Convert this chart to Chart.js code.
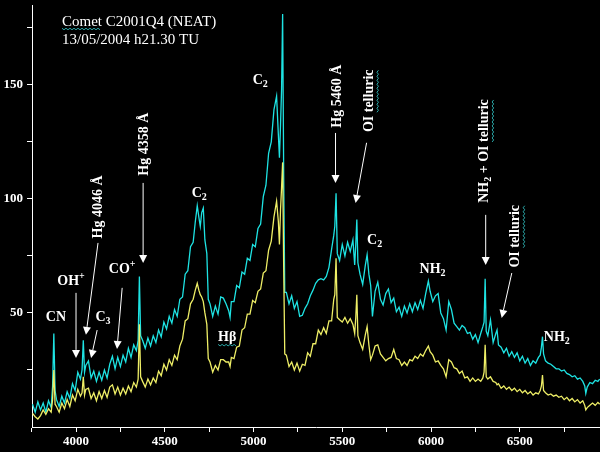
<!DOCTYPE html>
<html>
<head>
<meta charset="utf-8">
<title>Comet C2001Q4 (NEAT)</title>
<script src="https://cdn.jsdelivr.net/npm/chart.js@4.4.1/dist/chart.umd.min.js"></script>
<style>
  html, body { margin: 0; padding: 0; background: #000; overflow: hidden; }
</style>
</head>
<body>
<canvas id="spec" width="600" height="452"></canvas>
<script>
// wavelength in Angstrom
const wavelengths = [
  3755, 3770, 3785, 3800, 3815, 3830, 3845, 3860,
  3868, 3875, 3882,
  3890, 3905, 3920, 3935, 3950, 3965, 3980, 3995, 4010, 4025,
  4034, 4041, 4048,
  4055, 4070, 4085, 4100, 4115, 4130, 4145, 4160, 4175, 4190, 4205, 4220, 4235, 4250, 4265, 4280, 4295, 4310, 4325, 4340,
  4350, 4357, 4364,
  4375, 4390, 4405, 4420, 4435, 4450, 4465, 4480, 4495, 4510, 4525, 4540, 4555, 4570, 4585, 4600, 4615, 4630, 4645, 4660,
  4672, 4683, 4692, 4700, 4708, 4717, 4726, 4737, 4745,
  4755, 4770, 4785, 4800, 4815, 4830, 4845, 4860, 4868, 4875, 4890, 4905, 4920, 4935, 4950, 4965, 4980, 4995, 5010, 5025, 5040, 5055, 5070, 5085, 5100, 5115, 5130,
  5140, 5146, 5152, 5158, 5164, 5170, 5176,
  5185, 5200, 5215, 5230, 5245, 5260, 5275, 5290, 5305, 5320, 5335, 5350, 5365, 5380, 5395, 5410, 5425, 5440, 5452,
  5458, 5465, 5472,
  5485, 5500, 5515, 5530, 5545, 5560, 5570,
  5576, 5582, 5588,
  5600, 5615, 5630, 5640, 5650, 5660, 5670, 5685, 5700, 5715, 5730, 5745, 5760, 5775, 5790, 5805, 5820, 5835, 5850, 5865,
  5880, 5895, 5910, 5925, 5940, 5955, 5970, 5985, 5995, 6010, 6025, 6040, 6055, 6070, 6085,
  6100, 6115, 6130, 6145, 6160, 6175, 6190, 6205, 6220, 6235, 6250, 6265, 6280, 6292,
  6299, 6305, 6311,
  6320, 6335, 6350, 6365, 6372, 6380, 6395, 6410, 6425, 6440, 6455, 6470, 6485, 6500, 6515, 6530, 6545, 6560, 6575, 6590,
  6605, 6615, 6622, 6628, 6634, 6645, 6660, 6675, 6690, 6705, 6720, 6735, 6750, 6765, 6780, 6795, 6810, 6825, 6840, 6855,
  6866, 6872, 6880, 6895, 6910, 6925, 6940, 6950
];

// upper (cyan) spectrum
const fluxCyan = [
  10, 6.5, 11, 7.5, 10.5, 6.5, 11.5, 8.5,
  18, 41, 16,
  12, 9, 13.5, 10.5, 15.5, 12.5, 19, 16, 24, 21,
  25, 38, 24,
  27, 29, 21.5, 24.5, 20, 24, 20.5, 25, 21.5, 27.5, 31, 25.5, 30.5, 26.5, 31.5, 28.5, 34.5, 30.5, 36, 33.5,
  38, 66, 40,
  38, 34.5, 39, 35.5, 40, 37, 42.5, 39.5, 46, 43, 48.5, 45.5, 51.5, 48.5, 56, 57, 67, 68.5, 79, 81,
  90, 97, 92, 88, 94, 96, 82, 76, 56,
  54, 48.5, 53, 49.5, 57, 56.5, 54, 51, 48, 55, 55, 62, 61, 68, 67, 74, 73, 80, 79, 87, 89, 101, 106, 120, 125, 139, 145,
  128, 118, 132, 148, 181, 110, 59,
  59, 54, 57.5, 52, 55, 48.5, 49, 52, 54, 57.5, 60, 63, 64.5, 65, 64.5, 66, 70, 78, 84,
  88, 102.5, 76,
  73, 80, 75, 81, 77, 82, 71,
  80, 91, 72,
  67, 62.5, 71, 75.5, 67, 62, 48.5, 59.5, 63.5, 56, 53.5, 58.5, 60.5, 54.5, 56.5, 50.5, 52.5, 48.5, 53, 50,
  54, 50.5, 54.5, 51.5, 55.5, 52, 58.5, 64, 59.5, 55, 57.5, 58.5, 50, 47.5, 42.5,
  55, 51.5, 45.5, 44, 42.5, 44.5, 43.5, 41, 41.5, 38.5, 40.5, 37, 41, 44,
  46, 65, 42,
  40, 47, 37, 41, 42.5, 36, 35, 32.5, 34.5, 31, 33, 30.5, 32.5, 29, 31, 28, 30, 27, 29, 28,
  30.5, 31.5, 35, 39.6, 32, 29, 28, 27.5, 26.5, 25.5, 25.5, 24.5, 25, 23.5, 23, 22, 22.5, 21, 21.5, 20,
  18, 14.7, 17.5, 19.5, 19, 20.5, 20, 21
];

// lower (yellow) spectrum
const fluxYellow = [
  6, 4.5, 3.5, 5, 7.5, 5.5, 8, 6.5,
  12, 25, 10,
  9, 6.5, 10.5, 8, 12, 9, 14, 11.5, 16.5, 13.5,
  15, 22, 14,
  16.5, 17, 12.5, 15, 11.5, 15.5, 12.5, 16, 13, 17.5, 18.5, 14.5, 17.5, 14, 17, 14.5, 18, 15.5, 19.5, 17.5,
  21, 45, 22,
  20, 17.5, 21, 18.5, 21.5, 19.5, 24.5, 22.5, 27.5, 25, 29.5, 27, 31.5, 29.5, 35.5, 38.5, 46.5, 47.5, 54, 56,
  60, 63, 60, 58, 57, 55, 50, 45, 30,
  28.5, 24, 27, 25, 29.5, 29.5, 28.5, 28.5, 26.5, 30.5, 30, 35, 35.5, 42.5, 43.5, 49.5, 49.5, 55.5, 54.5, 59.5, 60.5, 67.5, 68.5, 77.5, 81.5, 92, 99,
  90, 80, 95, 105, 116, 70, 32,
  31.5, 26.5, 28.5, 25, 28, 24.5, 27.5, 27, 32.5, 31, 36.5, 36.5, 42.5, 40.5, 43.5, 41, 46.5, 46.5, 56,
  58, 74, 48,
  47, 46, 48, 45.5, 47.5, 45, 41,
  48, 58, 40,
  37, 34, 40.5, 44, 36, 29.5, 31.5, 35.5, 36, 32, 30.5, 29, 30, 30.5, 34, 30, 29.5, 27, 28.5, 27,
  29.5, 29, 31, 30, 32, 31, 33.5, 35.5, 33, 31.5, 28.5, 29, 27, 25.5, 22,
  29.5, 28.5, 26, 25.5, 23.5, 24.5, 21.5, 22, 20, 21.5, 20, 21, 20, 21.5,
  24, 36, 22,
  21, 22, 20, 19.5, 18.5, 19, 17, 18, 16.5, 17.5, 16, 17, 15.5, 16.5, 15, 16, 14.5, 15.5, 14, 15,
  14.5, 16, 18, 22.8, 16, 15, 14, 14.5, 13.5, 14, 13, 13.5, 12, 13, 11.5, 12.5, 11, 12, 10.5, 11.5,
  9.5, 7.5, 8.5, 9.5, 10.5, 9.5, 10.8, 10
];

const xTicks = [3750, 4000, 4250, 4500, 4750, 5000, 5250, 5500, 5750, 6000, 6250, 6500, 6750];
const xTickLabels = ['', '4000', '', '4500', '', '5000', '', '5500', '', '6000', '', '6500', ''];
const yTicks = [25, 50, 75, 100, 125, 150, 175];
const yTickLabels = ['', '50', '', '100', '', '150', ''];

// text placed in data units (wavelength, flux)
const titleLines = [
  { parts: [['Comet', 'wavy'], [' C2001Q4 (NEAT)']], at: [3921, 175.9] },
  { parts: [['13/05/2004 h21.30 TU']], at: [3921, 167.8] }
];

const lineLabels = [
  { parts: [['CN']], at: [3887, 48] },
  { parts: [['OH'], ['+', 'sup']], at: [3972, 64] },
  { parts: [['C'], ['3', 'sub']], at: [4152, 48] },
  { parts: [['CO'], ['+', 'sup']], at: [4260, 69] },
  { parts: [['C'], ['2', 'sub']], at: [4694, 102.6] },
  { parts: [['C'], ['2', 'sub']], at: [5038, 152] },
  { parts: [['H\u03b2', 'wavy']], at: [4852, 39.5] },
  { parts: [['C'], ['2', 'sub']], at: [5682, 82] },
  { parts: [['NH'], ['2', 'sub']], at: [6009, 69] },
  { parts: [['NH'], ['2', 'sub']], at: [6709, 39.5] }
];

const sideLabels = [
  { parts: [['Hg 4046 \u00c5']], at: [4124, 96.5] },
  { parts: [['Hg 4358 \u00c5']], at: [4384, 124] },
  { parts: [['Hg 5460 \u00c5']], at: [5473, 145] },
  { parts: [['OI '], ['telluric', 'wavy']], at: [5653, 143] },
  { parts: [['NH'], ['2', 'sub'], [' + OI '], ['telluric', 'wavy']], at: [6302, 121] },
  { parts: [['OI '], ['telluric', 'wavy']], at: [6477, 83.6] }
];

// arrows: from (wl, flux) to tip (wl, flux)
const arrows = [
  [4000, 58.8, 4000, 30.3],
  [4124, 80.7, 4056, 40.4],
  [4119, 42.5, 4085, 30.3],
  [4260, 61, 4231, 34.2],
  [4378, 107, 4378, 71.9],
  [5462, 128.9, 5462, 107],
  [5637, 124.6, 5575, 98.2],
  [6308, 93, 6308, 71],
  [6455, 67.5, 6398, 47.8]
];

const serif = '"Liberation Serif", "Times New Roman", serif';

// draws a label made of pieces (normal / sub / sup / wavy underline)
function drawParts(ctx, parts, size, align, weight, waveY) {
  const small = Math.round(size * 0.7);
  const fontOf = p => weight + ' ' + (p[1] === 'sub' || p[1] === 'sup' ? small : size) + 'px ' + serif;
  const widths = parts.map(p => {
    ctx.font = fontOf(p);
    return ctx.measureText(p[0]).width;
  });
  const total = widths.reduce((a, b) => a + b, 0);
  let x = align === 'left' ? 0 : -total / 2;
  parts.forEach((p, i) => {
    let dy = 0;
    if (p[1] === 'sub') dy = size * 0.3;
    if (p[1] === 'sup') dy = -size * 0.35;
    ctx.font = fontOf(p);
    ctx.fillStyle = '#fff';
    ctx.fillText(p[0], x, dy);
    if (p[1] === 'wavy') {
      ctx.save();
      ctx.strokeStyle = '#2aa8a8';
      ctx.lineWidth = 1;
      ctx.beginPath();
      for (let k = 0; k <= widths[i]; k += 2) {
        const wy = waveY + ((k / 2) % 2 === 0 ? 0 : 1.5);
        if (k === 0) ctx.moveTo(x + k, wy); else ctx.lineTo(x + k, wy);
      }
      ctx.stroke();
      ctx.restore();
    }
    x += widths[i];
  });
}

const blackBg = {
  id: 'blackBg',
  beforeDraw(chart) {
    const c = chart.ctx;
    c.save();
    c.fillStyle = '#000';
    c.fillRect(0, 0, chart.width, chart.height);
    c.restore();
  }
};

const notes = {
  id: 'notes',
  afterDatasetsDraw(chart) {
    const c = chart.ctx;
    const sx = chart.scales.x, sy = chart.scales.y;
    c.save();

    titleLines.forEach(t => {
      c.save();
      c.translate(sx.getPixelForValue(t.at[0]), sy.getPixelForValue(t.at[1]));
      c.textBaseline = 'alphabetic';
      drawParts(c, t.parts, 15, 'left', 'normal', 2.5);
      c.restore();
    });

    lineLabels.forEach(t => {
      c.save();
      c.translate(sx.getPixelForValue(t.at[0]), sy.getPixelForValue(t.at[1]));
      c.textBaseline = 'middle';
      drawParts(c, t.parts, 14, 'center', 'bold', 7.5);
      c.restore();
    });

    sideLabels.forEach(t => {
      c.save();
      c.translate(sx.getPixelForValue(t.at[0]), sy.getPixelForValue(t.at[1]));
      c.rotate(-Math.PI / 2);
      c.textBaseline = 'middle';
      drawParts(c, t.parts, 14, 'center', 'bold', 7.5);
      c.restore();
    });

    c.strokeStyle = '#fff';
    c.fillStyle = '#fff';
    c.lineWidth = 1;
    arrows.forEach(a => {
      const x0 = sx.getPixelForValue(a[0]), y0 = sy.getPixelForValue(a[1]);
      const x1 = sx.getPixelForValue(a[2]), y1 = sy.getPixelForValue(a[3]);
      const ang = Math.atan2(y1 - y0, x1 - x0);
      const hl = 8, hw = 4;
      const bx = x1 - hl * Math.cos(ang), by = y1 - hl * Math.sin(ang);
      c.beginPath();
      c.moveTo(x0, y0);
      c.lineTo(bx, by);
      c.stroke();
      c.beginPath();
      c.moveTo(x1, y1);
      c.lineTo(bx + hw * Math.sin(ang), by - hw * Math.cos(ang));
      c.lineTo(bx - hw * Math.sin(ang), by + hw * Math.cos(ang));
      c.closePath();
      c.fill();
    });
    c.restore();
  }
};

const ctx = document.getElementById('spec').getContext('2d');
new Chart(ctx, {
  type: 'line',
  data: {
    datasets: [
      {
        label: 'lower',
        data: wavelengths.map((w, i) => ({ x: w, y: fluxYellow[i] })),
        borderColor: '#eeee66',
        borderWidth: 1.3,
        pointRadius: 0,
        tension: 0
      },
      {
        label: 'upper',
        data: wavelengths.map((w, i) => ({ x: w, y: fluxCyan[i] })),
        borderColor: '#1ee3e3',
        borderWidth: 1.3,
        pointRadius: 0,
        tension: 0
      }
    ]
  },
  options: {
    responsive: false,
    animation: false,
    layout: { padding: { top: 5, right: 0, left: 0, bottom: 0 } },
    plugins: {
      legend: { display: false },
      tooltip: { enabled: false }
    },
    scales: {
      x: {
        type: 'linear',
        min: 3752,
        max: 6952,
        afterBuildTicks: s => { s.ticks = xTicks.map(v => ({ value: v })); },
        afterFit: s => { s.height = 25; s.paddingLeft = 0; s.paddingRight = 0; },
        ticks: {
          callback: (v, i) => xTickLabels[i],
          color: '#fff',
          font: { family: serif, size: 13, weight: 'bold' },
          maxRotation: 0,
          autoSkip: false,
          padding: 2
        },
        grid: { drawOnChartArea: false, color: '#fff', tickLength: 5 },
        border: { color: '#fff', width: 1 }
      },
      y: {
        type: 'linear',
        min: 0,
        max: 185,
        afterBuildTicks: s => { s.ticks = yTicks.map(v => ({ value: v })); },
        afterFit: s => { s.width = 32; s.paddingTop = 0; s.paddingBottom = 0; },
        ticks: {
          callback: (v, i) => yTickLabels[i],
          color: '#fff',
          font: { family: serif, size: 13, weight: 'bold' },
          padding: 4
        },
        grid: { drawOnChartArea: false, color: '#fff', tickLength: 5 },
        border: { color: '#fff', width: 1 }
      }
    }
  },
  plugins: [blackBg, notes]
});
</script>
</body>
</html>
